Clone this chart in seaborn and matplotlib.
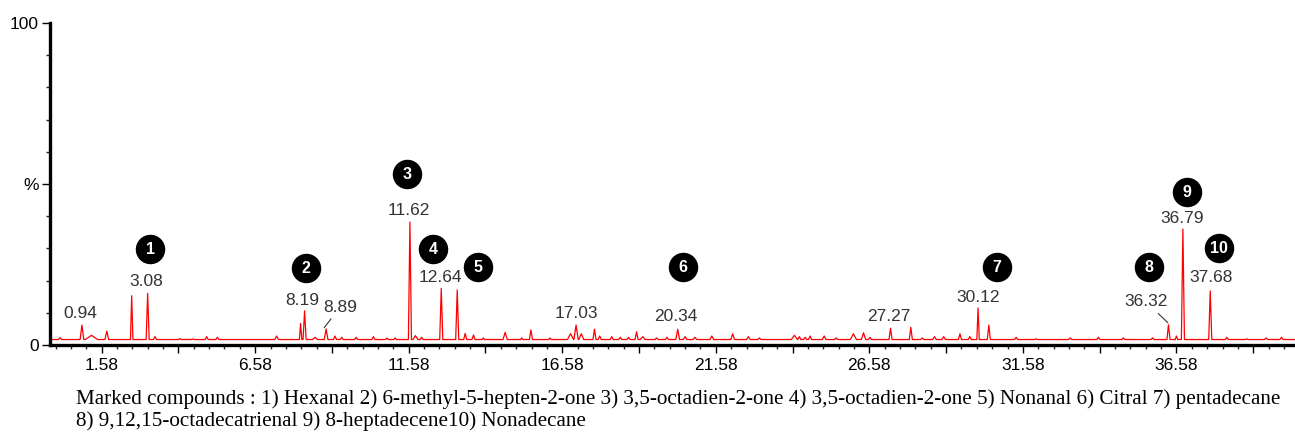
import numpy as np
import pandas as pd
import matplotlib
matplotlib.use("Agg")
import matplotlib.pyplot as plt
import seaborn as sns

# ---------------- data ----------------
baseline_level = 1.7
peak_rt = [0.23, 0.94, 1.25, 1.75, 2.56, 3.08, 3.32, 4.14, 4.55, 5.00, 5.35, 7.28,
           8.06, 8.19, 8.53, 8.89, 9.18, 9.40, 9.87, 10.43, 10.87, 11.14, 11.62,
           11.80, 12.00, 12.64, 13.16, 13.42, 13.69, 14.01, 14.72, 15.26, 15.56,
           16.18, 16.85, 17.03, 17.20, 17.63, 17.80, 18.19, 18.47, 18.74, 19.00,
           19.20, 19.65, 19.99, 20.34, 20.58, 20.90, 21.45, 22.13, 22.64, 23.00,
           24.14, 24.30, 24.49, 24.65, 25.11, 25.50, 26.06, 26.39, 26.60, 27.27,
           27.93, 28.30, 28.70, 29.00, 29.53, 29.85, 30.12, 30.47, 31.36, 32.00,
           33.12, 34.04, 34.85, 35.80, 36.32, 36.58, 36.79, 37.68, 38.22, 38.87,
           39.50, 40.00]
peak_height = [2.3, 6.2, 3.0, 4.3, 15.3, 16.0, 2.6, 2.0, 1.9, 2.6, 2.4, 2.8,
               6.7, 10.6, 2.4, 5.0, 2.8, 2.4, 2.4, 2.6, 2.2, 2.2, 38.2,
               2.9, 2.4, 17.6, 17.1, 3.6, 3.1, 2.2, 3.9, 2.2, 4.7,
               2.2, 3.5, 6.2, 3.5, 4.9, 2.8, 2.6, 2.4, 2.4, 4.1,
               2.6, 2.2, 2.4, 4.9, 2.6, 2.4, 2.8, 3.5, 2.6, 2.2,
               3.0, 2.6, 2.4, 2.8, 2.8, 2.2, 3.5, 3.8, 2.4, 5.2,
               5.5, 2.2, 2.6, 2.6, 3.5, 2.6, 11.5, 6.2, 2.4, 1.9,
               2.2, 2.4, 2.2, 2.2, 6.3, 2.8, 36.0, 16.8, 2.4, 1.9,
               2.2, 2.4]
peak_width = [0.05, 0.06, 0.2, 0.06, 0.04, 0.05, 0.05, 0.04, 0.04, 0.05, 0.05, 0.06,
              0.04, 0.05, 0.08, 0.06, 0.05, 0.05, 0.05, 0.05, 0.04, 0.04, 0.05,
              0.08, 0.05, 0.05, 0.05, 0.05, 0.05, 0.04, 0.07, 0.04, 0.05,
              0.04, 0.1, 0.07, 0.08, 0.05, 0.05, 0.05, 0.05, 0.05, 0.05,
              0.08, 0.05, 0.05, 0.06, 0.06, 0.06, 0.06, 0.06, 0.06, 0.05,
              0.1, 0.05, 0.05, 0.05, 0.06, 0.05, 0.1, 0.07, 0.05, 0.05,
              0.05, 0.05, 0.06, 0.06, 0.05, 0.05, 0.04, 0.05, 0.05, 0.05,
              0.05, 0.05, 0.05, 0.05, 0.05, 0.04, 0.05, 0.05, 0.05, 0.05,
              0.05, 0.05]

label_text = ["0.94", "3.08", "8.19", "8.89", "11.62", "12.64", "17.03",
              "20.34", "27.27", "30.12", "36.32", "36.79", "37.68"]
circle_text = ["1", "2", "3", "4", "5", "6", "7", "8", "9", "10"]

x_tick_labels = ["1.58", "6.58", "11.58", "16.58", "21.58", "26.58", "31.58", "36.58"]
y_tick_values = [0, 50, 100]
y_tick_labels = ["0", "%", "100"]

caption_line1 = ("Marked compounds : 1) Hexanal 2) 6-methyl-5-hepten-2-one 3) 3,5-octadien-2-one "
                 "4) 3,5-octadien-2-one 5) Nonanal 6) Citral 7) pentadecane")
caption_line2 = "8) 9,12,15-octadecatrienal 9) 8-heptadecene10) Nonadecane"

# ---------------- layout (positions of annotations) ----------------
label_pos = [(0.88, 9.9), (3.03, 19.6), (8.11, 13.7), (9.35, 11.8), (11.59, 41.9),
             (12.60, 21.1), (17.03, 9.9), (20.29, 8.7), (27.22, 9.0), (30.12, 14.9),
             (35.59, 13.4), (36.76, 39.4), (37.70, 21.1)]
leader_target = {"8.89": (8.83, 5.4), "36.32": (36.30, 6.9)}
circle_pos = [(3.16, 29.8), (8.24, 23.9), (11.53, 53.1), (12.37, 29.8), (13.84, 24.2),
              (20.51, 24.2), (30.74, 24.2), (35.69, 24.2), (36.93, 47.5), (37.97, 30.1)]

XMIN, XMAX = -0.10, 40.44

# ---------------- build trace from peak table ----------------
xs = [XMIN]
ys = [baseline_level]
for rt, h, w in sorted(zip(peak_rt, peak_height, peak_width)):
    xs += [rt - w, rt, rt + w]
    ys += [baseline_level, h, baseline_level]
xs.append(XMAX)
ys.append(baseline_level)
trace = pd.DataFrame({"rt": xs, "abundance": ys})

sns.set_style("white")
plt.rcParams["font.family"] = ["Liberation Sans", "DejaVu Sans"]

fig = plt.figure(figsize=(12.95, 4.32), dpi=100)
ax = fig.add_axes([50 / 1295, 1 - 345 / 432, 1 - 50 / 1295, (345 - 23) / 432])

sns.lineplot(data=trace, x="rt", y="abundance", ax=ax, color="#ff0000",
             linewidth=0.9, estimator=None, sort=False)

ax.set_xlim(XMIN, XMAX)
ax.set_ylim(0, 100)

# spines
for s in ["top", "right"]:
    ax.spines[s].set_visible(False)
for s in ["left", "bottom"]:
    ax.spines[s].set_color("black")
    ax.spines[s].set_linewidth(2.4)

# x ticks
major_x = [1.58 + 2.5 * i for i in range(16)]
ax.set_xticks(major_x)
ax.set_xticklabels([x_tick_labels[i // 2] if i % 2 == 0 else "" for i in range(16)])
ax.set_xticks([0.08 + 0.5 * i for i in range(81)], minor=True)
ax.tick_params(axis="x", which="major", direction="out", length=6, width=1.0,
               labelsize=12.5, pad=3, colors="black", bottom=True)
ax.tick_params(axis="x", which="minor", direction="out", length=3, width=1.0, bottom=True)

# y ticks
ax.set_yticks(y_tick_values)
ax.set_yticklabels(y_tick_labels)
ax.set_yticks(list(range(0, 101, 10)), minor=True)
ax.tick_params(axis="y", which="major", direction="out", length=6, width=1.0,
               labelsize=12.5, pad=2, colors="black", left=True)
ax.tick_params(axis="y", which="minor", direction="out", length=3, width=1.0, left=True)
ax.set_xlabel("")
ax.set_ylabel("")

# peak labels
for txt, (lx, ly) in zip(label_text, label_pos):
    if txt in leader_target:
        ax.annotate(txt, xy=leader_target[txt], xytext=(lx, ly), ha="center", va="center",
                    fontsize=12.5, color="#333333",
                    arrowprops=dict(arrowstyle="-", color="#333333", lw=0.8,
                                    shrinkA=1, shrinkB=0))
    else:
        ax.text(lx, ly, txt, ha="center", va="center", fontsize=12.5, color="#333333")

# circled compound numbers
cx = [p[0] for p in circle_pos]
cy = [p[1] for p in circle_pos]
ax.scatter(cx, cy, s=450, color="black", zorder=5, clip_on=False, linewidths=0)
for txt, (px, py) in zip(circle_text, circle_pos):
    ax.text(px, py, txt, ha="center", va="center", fontsize=11.5, fontweight="bold",
            color="white", zorder=6)

# caption
fig.text(76 / 1295, 1 - 399 / 432, caption_line1, ha="left", va="center",
         fontsize=15.25, family=["Liberation Serif", "DejaVu Serif"], color="black")
fig.text(76 / 1295, 1 - 421 / 432, caption_line2, ha="left", va="center",
         fontsize=15.25, family=["Liberation Serif", "DejaVu Serif"], color="black")

fig.savefig("out.png", dpi=100)
